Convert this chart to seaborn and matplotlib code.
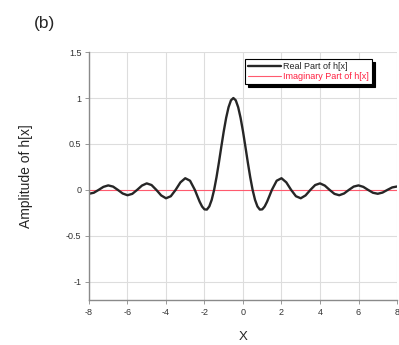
import numpy as np
import pandas as pd
import seaborn as sns
import matplotlib
matplotlib.use("Agg")
import matplotlib.pyplot as plt

# values (real part of h[x])
x_vals = [-8, -7.75, -7.5, -7.25, -7, -6.75, -6.5, -6.25, -6, -5.75, -5.5, -5.25, -5,
          -4.75, -4.5, -4.25, -4, -3.75, -3.5, -3.25, -3, -2.75, -2.5,
          -2.375, -2.25, -2.125, -2, -1.875, -1.75, -1.625, -1.5, -1.375, -1.25,
          -1.125, -1, -0.875, -0.75, -0.625, -0.5, -0.375, -0.25, -0.125, 0,
          0.125, 0.25, 0.375, 0.5, 0.625, 0.75, 0.875, 1, 1.125, 1.25, 1.375,
          1.5, 1.75, 2, 2.25, 2.5, 2.75, 3, 3.25, 3.5, 3.75, 4, 4.25, 4.5, 4.75,
          5, 5.25, 5.5, 5.75, 6, 6.25, 6.5, 6.75, 7, 7.25, 7.5, 7.75, 8]
real_vals = [-0.042, -0.031, 0, 0.033, 0.049, 0.036, 0, -0.039, -0.058, -0.043, 0,
             0.047, 0.071, 0.053, 0, -0.060, -0.091, -0.069, 0, 0.082, 0.127, 0.100, 0,
             -0.065, -0.129, -0.181, -0.212, -0.214, -0.180, -0.108, 0, 0.139,
             0.300, 0.471, 0.637, 0.784, 0.900, 0.975, 1.0,
             0.975, 0.900, 0.784, 0.637, 0.471, 0.300, 0.139, 0, -0.108, -0.180,
             -0.214, -0.212, -0.181, -0.129, -0.065,
             0, 0.100, 0.127, 0.082, 0, -0.069, -0.091, -0.060, 0, 0.053, 0.071,
             0.047, 0, -0.043, -0.058, -0.039, 0, 0.036, 0.049, 0.033, 0, -0.031,
             -0.042, -0.029, 0, 0.027, 0.037]
imag_vals = [0.0] * len(x_vals)

x_ticks = [-8, -6, -4, -2, 0, 2, 4, 6, 8]
y_ticks = [-1, -0.5, 0, 0.5, 1, 1.5]
y_labels = ["-1", "-0.5", "0", "0.5", "1", "1.5"]

sns.set_style("whitegrid")
plt.rcParams['font.family'] = ['Liberation Sans', 'DejaVu Sans']

df = pd.DataFrame({"x": x_vals, "real": real_vals, "imag": imag_vals})

fig = plt.figure(figsize=(3.99, 3.45), dpi=100)
ax = fig.add_axes([0.223, 0.13, 0.772, 0.719])

sns.lineplot(data=df, x="x", y="imag", ax=ax, color="#ff5a6e", linewidth=0.8,
             label="Imaginary Part of h[x]")
sns.lineplot(data=df, x="x", y="real", ax=ax, color="#262626", linewidth=1.7,
             label="Real Part of h[x]")

ax.set_xlim(-8, 8)
ax.set_ylim(-1.2, 1.5)
ax.set_xticks(x_ticks)
ax.set_xticklabels([str(t) for t in x_ticks])
ax.set_yticks(y_ticks)
ax.set_yticklabels(y_labels)
ax.tick_params(labelsize=6.5, length=3, width=0.6, color="#888888", pad=2.5,
               left=True, bottom=True, labelcolor="#333333")
ax.grid(True, color="#dddddd", linewidth=0.8)
for side in ["top", "right"]:
    ax.spines[side].set_visible(False)
for side in ["left", "bottom"]:
    ax.spines[side].set_color("#8a8a8a")
    ax.spines[side].set_linewidth(1.0)

ax.set_xlabel("X", fontsize=9.5, labelpad=10)
ax.set_ylabel("Amplitude of h[x]", fontsize=10, labelpad=24)

handles, labels = ax.get_legend_handles_labels()
leg = ax.legend(handles[::-1], labels[::-1], loc="upper right",
                bbox_to_anchor=(0.935, 0.99), fontsize=6.5, frameon=True,
                fancybox=False, shadow={"color": "black", "alpha": 1},
                edgecolor="black", handlelength=3.6, borderpad=0.35,
                labelspacing=0.05, handletextpad=0.3, framealpha=1)
leg.get_frame().set_linewidth(0.8)
leg.get_texts()[1].set_color("#ff2040")

fig.text(0.085, 0.92, "(b)", fontsize=12.5)

fig.savefig("out.png", dpi=100)
